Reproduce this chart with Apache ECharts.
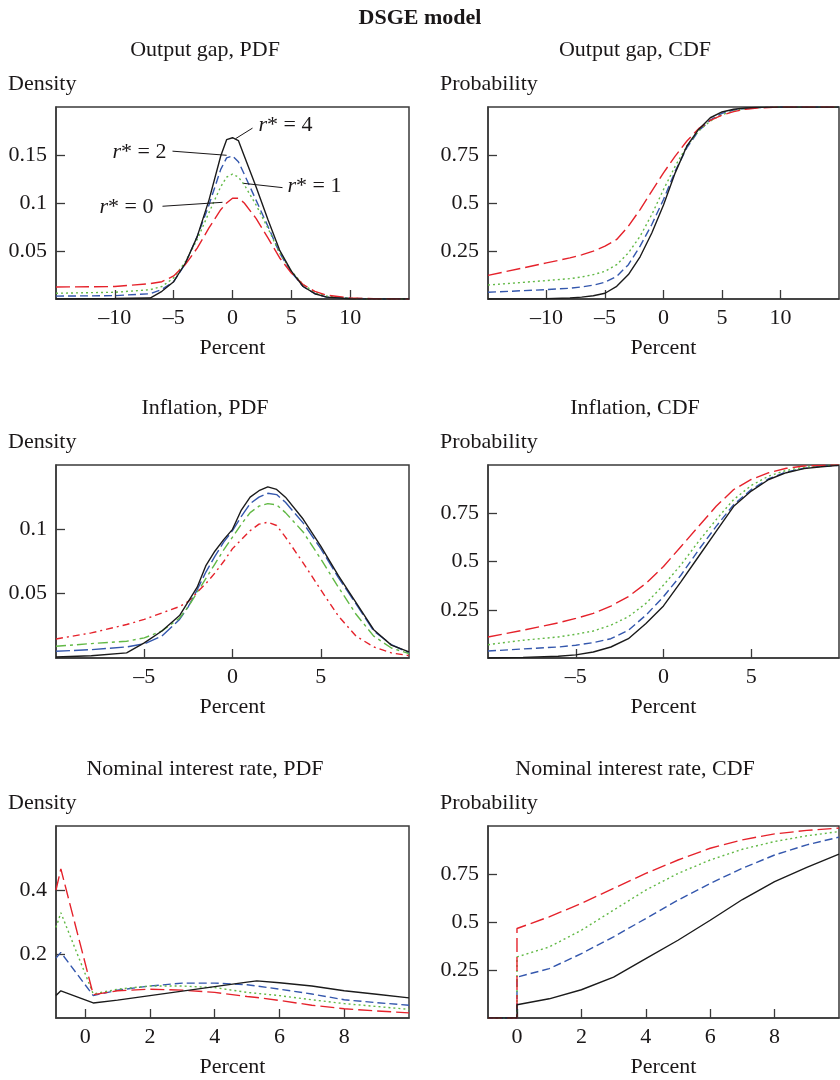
<!DOCTYPE html>
<html>
<head>
<meta charset="utf-8">
<script src="https://cdn.jsdelivr.net/npm/echarts@6/dist/echarts.min.js"></script>
<style>
  html, body { margin: 0; padding: 0; background: #fff; }
  #main { width: 840px; height: 1080px; }
</style>
</head>
<body>
<div id="main"></div>
<script>
// output gap, PDF
var xGapPdf = [-15, -10, -7, -6, -5, -4, -3, -2, -1, -0.5, 0, 0.5, 1, 2, 3, 4, 5, 6, 7, 8, 10, 12, 15]
var gapPdf4 = [0, 0.0005, 0.001, 0.008, 0.018, 0.0375, 0.065, 0.103, 0.149, 0.166, 0.168, 0.165, 0.149, 0.117, 0.083, 0.051, 0.029, 0.013, 0.0055, 0.002, 0.0003, 0, 0]
var gapPdf2 = [0.003, 0.0035, 0.0055, 0.01, 0.018, 0.037, 0.065, 0.098, 0.135, 0.147, 0.149, 0.143, 0.13, 0.103, 0.076, 0.048, 0.028, 0.013, 0.0055, 0.002, 0.0007, 0.0002, 0]
var gapPdf1 = [0.006, 0.007, 0.0097, 0.013, 0.022, 0.039, 0.062, 0.09, 0.117, 0.127, 0.13, 0.127, 0.119, 0.098, 0.074, 0.048, 0.029, 0.015, 0.007, 0.003, 0.0007, 0.0002, 0]
var gapPdf0 = [0.0125, 0.013, 0.016, 0.018, 0.024, 0.036, 0.053, 0.074, 0.093, 0.1, 0.105, 0.105, 0.1, 0.084, 0.064, 0.043, 0.027, 0.015, 0.008, 0.004, 0.001, 0.0003, 0]

// output gap, CDF
var xGapCdf = [-15, -10, -8, -7, -6, -5, -4, -3, -2, -1, 0, 1, 2, 3, 4, 5, 6, 7, 8, 10, 15]
var gapCdf4 = [0, 0.002, 0.005, 0.01, 0.017, 0.03, 0.066, 0.127, 0.22, 0.344, 0.49, 0.657, 0.797, 0.883, 0.944, 0.974, 0.988, 0.995, 0.998, 1, 1]
var gapCdf2 = [0.035, 0.049, 0.056, 0.063, 0.072, 0.087, 0.118, 0.179, 0.275, 0.388, 0.518, 0.666, 0.788, 0.875, 0.932, 0.967, 0.984, 0.993, 0.997, 1, 1]
var gapCdf1 = [0.073, 0.096, 0.106, 0.115, 0.127, 0.144, 0.179, 0.24, 0.327, 0.44, 0.57, 0.692, 0.797, 0.875, 0.927, 0.96, 0.979, 0.991, 0.997, 1, 1]
var gapCdf0 = [0.123, 0.188, 0.214, 0.23, 0.249, 0.275, 0.31, 0.379, 0.466, 0.562, 0.657, 0.744, 0.823, 0.887, 0.93, 0.957, 0.976, 0.988, 0.995, 1, 1]

// inflation, PDF
var xInfPdf = [-10, -8, -6, -5, -4, -3, -2.5, -2, -1.5, -1, -0.5, 0, 0.5, 1, 1.5, 2, 2.5, 3, 4, 5, 6, 7, 8, 9, 10]
var infPdf4 = [0.0008, 0.0018, 0.004, 0.0117, 0.021, 0.033, 0.044, 0.055, 0.072, 0.083, 0.092, 0.1, 0.115, 0.125, 0.13, 0.133, 0.131, 0.125, 0.108, 0.087, 0.064, 0.043, 0.022, 0.01, 0.0047]
var infPdf2 = [0.0052, 0.0065, 0.0086, 0.011, 0.017, 0.03, 0.04, 0.053, 0.067, 0.079, 0.09, 0.099, 0.11, 0.12, 0.125, 0.128, 0.127, 0.121, 0.105, 0.085, 0.0625, 0.042, 0.021, 0.0104, 0.004]
var infPdf1 = [0.0091, 0.0112, 0.013, 0.0156, 0.021, 0.031, 0.04, 0.051, 0.062, 0.073, 0.084, 0.094, 0.104, 0.113, 0.118, 0.12, 0.119, 0.113, 0.098, 0.077, 0.055, 0.034, 0.017, 0.0078, 0.0034]
var infPdf0 = [0.0148, 0.0195, 0.026, 0.03, 0.035, 0.04, 0.044, 0.051, 0.058, 0.066, 0.075, 0.085, 0.092, 0.099, 0.104, 0.1055, 0.103, 0.094, 0.074, 0.053, 0.0326, 0.017, 0.0086, 0.004, 0.0018]

// inflation, CDF
var xInfCdf = [-10, -8, -6, -5, -4, -3, -2, -1, 0, 1, 2, 3, 4, 5, 6, 7, 8, 9, 10]
var infCdf4 = [0, 0.003, 0.009, 0.016, 0.031, 0.057, 0.1, 0.179, 0.27, 0.396, 0.526, 0.656, 0.786, 0.865, 0.925, 0.96, 0.981, 0.991, 0.998]
var infCdf2 = [0.036, 0.047, 0.057, 0.066, 0.08, 0.1, 0.144, 0.222, 0.318, 0.43, 0.56, 0.682, 0.795, 0.873, 0.929, 0.964, 0.983, 0.993, 0.998]
var infCdf1 = [0.069, 0.092, 0.109, 0.123, 0.14, 0.17, 0.214, 0.283, 0.378, 0.483, 0.604, 0.717, 0.821, 0.894, 0.943, 0.972, 0.988, 0.995, 1]
var infCdf0 = [0.109, 0.144, 0.182, 0.205, 0.231, 0.269, 0.318, 0.387, 0.474, 0.578, 0.682, 0.786, 0.873, 0.925, 0.96, 0.983, 0.995, 0.998, 1]

// nominal interest rate, PDF
var xRatePdf = [-0.9, -0.75, 0.25, 1, 2, 3, 4, 5, 5.3, 6, 7, 8, 9, 10]
var ratePdf4 = [0.07, 0.085, 0.047, 0.056, 0.07, 0.084, 0.098, 0.112, 0.116, 0.11, 0.1, 0.085, 0.074, 0.063]
var ratePdf2 = [0.187, 0.205, 0.07, 0.087, 0.1, 0.109, 0.109, 0.104, 0.1, 0.09, 0.075, 0.057, 0.048, 0.04]
var ratePdf1 = [0.283, 0.329, 0.075, 0.09, 0.1, 0.1, 0.095, 0.08, 0.077, 0.07, 0.057, 0.045, 0.036, 0.027]
var ratePdf0 = [0.4, 0.466, 0.073, 0.085, 0.09, 0.087, 0.08, 0.067, 0.064, 0.055, 0.04, 0.029, 0.022, 0.016]

// nominal interest rate, CDF
var xRateCdf = [-0.9, 0, 0, 1, 2, 3, 4, 5, 6, 7, 8, 9, 10]
var rateCdf4 = [0, 0, 0.069, 0.1, 0.147, 0.213, 0.309, 0.405, 0.509, 0.617, 0.71, 0.785, 0.853]
var rateCdf2 = [0, 0, 0.213, 0.257, 0.335, 0.423, 0.518, 0.614, 0.701, 0.78, 0.849, 0.902, 0.942]
var rateCdf1 = [0, 0, 0.318, 0.37, 0.457, 0.562, 0.666, 0.753, 0.823, 0.879, 0.919, 0.949, 0.971]
var rateCdf0 = [0, 0, 0.466, 0.527, 0.597, 0.675, 0.753, 0.823, 0.884, 0.928, 0.959, 0.977, 0.989]

var panelTitles = ['Output gap, PDF', 'Output gap, CDF', 'Inflation, PDF', 'Inflation, CDF', 'Nominal interest rate, PDF', 'Nominal interest rate, CDF']
var yNames = ['Density', 'Probability', 'Density', 'Probability', 'Density', 'Probability']
var xRanges = [[-15, 15], [-15, 15], [-10, 10], [-10, 10], [-0.9, 10], [-0.9, 10]]
var yRanges = [[0, 0.2], [0, 1], [0, 0.15], [0, 1], [0, 0.6], [0, 1]]
var xTicks = [[-10, -5, 0, 5, 10], [-10, -5, 0, 5, 10], [-5, 0, 5], [-5, 0, 5], [0, 2, 4, 6, 8], [0, 2, 4, 6, 8]]
var yTicks = [[0.05, 0.1, 0.15], [0.25, 0.5, 0.75], [0.05, 0.1], [0.25, 0.5, 0.75], [0.2, 0.4], [0.25, 0.5, 0.75]]

var FONT = 'Liberation Serif'
var INK = '#1a1718'
var RED = '#e5222b', GREEN = '#62b946', BLUE = '#3457ad', BLACK = '#1b1b1b'

var chartDom = document.getElementById('main')
var myChart = echarts.init(chartDom)

function zip(xs, ys) {
  return xs.map(function (x, i) { return [x, ys[i]] })
}

var gridPos = [
  { left: 56, top: 107, width: 353, height: 192 },
  { left: 488, top: 107, width: 351, height: 192 },
  { left: 56, top: 465, width: 353, height: 193 },
  { left: 488, top: 465, width: 351, height: 193 },
  { left: 56, top: 826, width: 353, height: 192 },
  { left: 488, top: 826, width: 351, height: 192 }
]

var grids = gridPos.map(function (g) {
  return Object.assign({ show: true, borderColor: '#3a3a3a', borderWidth: 1.5, containLabel: false }, g)
})

var xAxes = gridPos.map(function (g, i) {
  return {
    type: 'value', gridIndex: i, min: xRanges[i][0], max: xRanges[i][1],
    name: 'Percent', nameLocation: 'middle', nameGap: 38,
    nameTextStyle: { fontFamily: FONT, fontSize: 22, color: INK },
    axisLine: { show: true, onZero: false, lineStyle: { color: '#3a3a3a', width: 1.5 } },
    axisTick: { show: true, inside: true, length: 9, customValues: xTicks[i], lineStyle: { color: '#3a3a3a', width: 1.3 } },
    axisLabel: {
      customValues: xTicks[i], margin: 8, fontFamily: FONT, fontSize: 22, color: INK,
      formatter: function (v) { return String(v).replace('-', '\u2013') }
    },
    splitLine: { show: false }
  }
})

var yAxes = gridPos.map(function (g, i) {
  return {
    type: 'value', gridIndex: i, min: yRanges[i][0], max: yRanges[i][1],
    axisLine: { show: true, onZero: false, lineStyle: { color: '#3a3a3a', width: 1.5 } },
    axisTick: { show: true, inside: true, length: 9, customValues: yTicks[i], lineStyle: { color: '#3a3a3a', width: 1.3 } },
    axisLabel: { customValues: yTicks[i], margin: 9, fontFamily: FONT, fontSize: 22, color: INK },
    splitLine: { show: false }
  }
})

// line styles: r*=0 red long dash, r*=1 green dotted, r*=2 blue dash, r*=4 black solid
var styleDefault = [
  { color: RED, type: [14, 5] },
  { color: GREEN, type: [2, 3] },
  { color: BLUE, type: [8, 4] },
  { color: BLACK, type: 'solid' }
]
// the inflation PDF panel uses dash-dot variants
var styleInflation = [
  { color: RED, type: [7, 4, 2, 4] },
  { color: GREEN, type: [10, 4, 3, 4] },
  { color: BLUE, type: [14, 4] },
  { color: BLACK, type: 'solid' }
]

var panels = [
  [xGapPdf, [gapPdf0, gapPdf1, gapPdf2, gapPdf4]],
  [xGapCdf, [gapCdf0, gapCdf1, gapCdf2, gapCdf4]],
  [xInfPdf, [infPdf0, infPdf1, infPdf2, infPdf4]],
  [xInfCdf, [infCdf0, infCdf1, infCdf2, infCdf4]],
  [xRatePdf, [ratePdf0, ratePdf1, ratePdf2, ratePdf4]],
  [xRateCdf, [rateCdf0, rateCdf1, rateCdf2, rateCdf4]]
]
var rNames = ['r*=0', 'r*=1', 'r*=2', 'r*=4']

var series = []
panels.forEach(function (p, i) {
  var styles = i === 2 ? styleInflation : styleDefault
  // black first, coloured lines on top (the red jump at 0 shows over the others)
  var order = [3, 2, 1, 0]
  order.forEach(function (k) {
    series.push({
      type: 'line', name: rNames[k], xAxisIndex: i, yAxisIndex: i,
      data: zip(p[0], p[1][k]),
      showSymbol: false, symbol: 'none', silent: true, animation: false,
      lineStyle: { color: styles[k].color, type: styles[k].type, width: 1.4 },
      z: k === 3 ? 4 : 3
    })
  })
})

// r* labels on the first panel, with leader lines
var tagLabels = [
  { value: [2.12, 0.181], label: { position: 'right', formatter: '{i|r}* = 4' } },
  { value: [-5.52, 0.153], label: { position: 'left', formatter: '{i|r}* = 2' } },
  { value: [4.59, 0.1174], label: { position: 'right', formatter: '{i|r}* = 1' } },
  { value: [-6.63, 0.0955], label: { position: 'left', formatter: '{i|r}* = 0' } }
]
var leaders = [
  [[0.26, 0.167], [1.7, 0.178]],
  [[-0.5, 0.1497], [-5.1, 0.154]],
  [[0.94, 0.1205], [4.25, 0.116]],
  [[-0.85, 0.1007], [-5.95, 0.0966]]
]
series.push({
  type: 'scatter', xAxisIndex: 0, yAxisIndex: 0, symbolSize: 0.1, silent: true, animation: false,
  data: tagLabels,
  itemStyle: { color: INK, opacity: 1 },
  label: {
    show: true, distance: 1, fontFamily: FONT, fontSize: 22, color: INK, opacity: 1,
    rich: { i: { fontFamily: FONT, fontSize: 22, fontStyle: 'italic', color: INK } }
  },
  markLine: {
    silent: true, animation: false, symbol: ['none', 'none'],
    label: { show: false },
    lineStyle: { color: INK, width: 1, type: 'solid', opacity: 1 },
    data: leaders.map(function (l) { return [{ coord: l[0] }, { coord: l[1] }] })
  },
  z: 5
})

// texts: main title, panel titles, y-axis captions
var titleRows = [50, 408, 769]
var nameRows = [84, 442, 803]
var colCentre = [205, 635]
var colLeft = [8, 440]
var graphics = [{
  type: 'text', x: 420, y: 18,
  style: { text: 'DSGE model', font: 'bold 22px "Liberation Serif"', fill: INK, textAlign: 'center', textVerticalAlign: 'middle' }
}]
panelTitles.forEach(function (t, i) {
  var r = Math.floor(i / 2), c = i % 2
  graphics.push({
    type: 'text', x: colCentre[c], y: titleRows[r],
    style: { text: t, font: '22px "Liberation Serif"', fill: INK, textAlign: 'center', textVerticalAlign: 'middle' }
  })
  graphics.push({
    type: 'text', x: colLeft[c], y: nameRows[r],
    style: { text: yNames[i], font: '22px "Liberation Serif"', fill: INK, textAlign: 'left', textVerticalAlign: 'middle' }
  })
})

myChart.setOption({
  backgroundColor: '#fff',
  animation: false,
  grid: grids,
  xAxis: xAxes,
  yAxis: yAxes,
  series: series,
  graphic: graphics
})

window.addEventListener('resize', function () {
  myChart.resize()
})
</script>
</body>
</html>
